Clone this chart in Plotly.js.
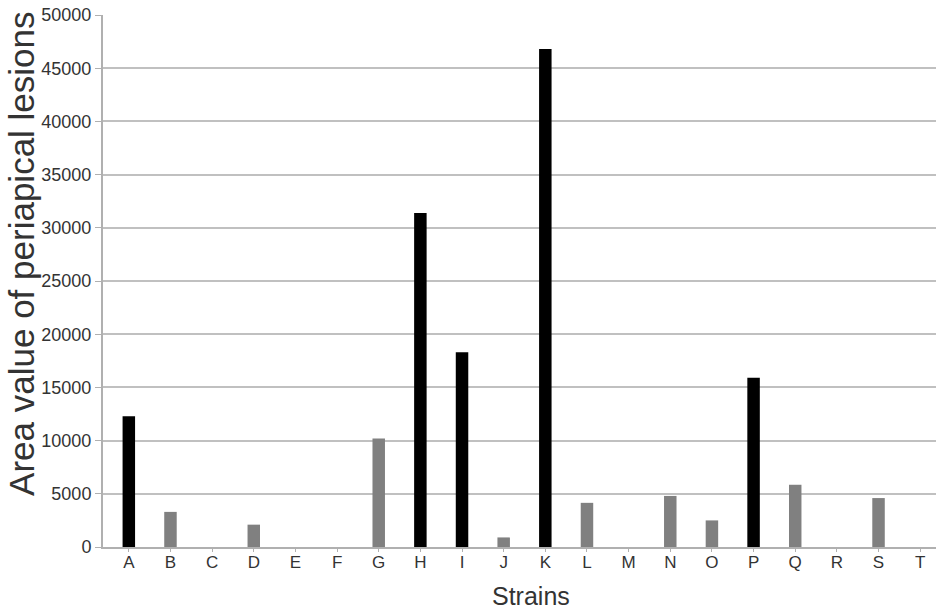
<!DOCTYPE html>
<html>
<head>
<meta charset="utf-8">
<script src="https://cdn.plot.ly/plotly-3.0.1.min.js"></script>
<style>html,body{margin:0;padding:0;background:#fff}#chart{width:945px;height:615px}</style>
</head>
<body>
<div id="chart"></div>
<script>
const strains = ["A","B","C","D","E","F","G","H","I","J","K","L","M","N","O","P","Q","R","S","T"];
const areaValues = [12300,3300,0,2100,0,0,10200,31400,18300,900,46800,4150,0,4800,2500,15900,5850,0,4600,0];
const groups = ["dark","light","light","light","light","light","light","dark","dark","light","dark","light","light","light","light","dark","light","light","light","light"];
const yTicks = [0,5000,10000,15000,20000,25000,30000,35000,40000,45000,50000];
const xTitle = "Strains";
const yTitle = "Area value of periapical lesions";

const groupColors = {dark: "#000000", light: "#808080"};

const trace = {
  type: "bar",
  x: strains.map((s, i) => i),
  y: areaValues,
  width: 0.3,
  marker: {color: groups.map(g => groupColors[g]), line: {width: 0}},
  hoverinfo: "x+y"
};

const layout = {
  width: 945, height: 615,
  margin: {l: 103, r: 9, t: 15, b: 68},
  paper_bgcolor: "#ffffff", plot_bgcolor: "#ffffff",
  showlegend: false,
  font: {family: "Liberation Sans, Arial, sans-serif", color: "#333333"},
  xaxis: {
    range: [-0.62, 19.38],
    tickmode: "array",
    tickvals: strains.map((s, i) => i),
    ticktext: strains,
    ticks: "outside", ticklen: 3, tickcolor: "#b0b0b0", tickwidth: 1,
    ticklabelstandoff: -4,
    showgrid: false, zeroline: false,
    showline: true, linecolor: "#b0b0b0", linewidth: 2,
    tickfont: {size: 17, color: "#333333"}
  },
  yaxis: {
    range: [0, 50000],
    tickmode: "array",
    tickvals: yTicks,
    ticktext: yTicks.map(String),
    ticks: "outside", ticklen: 6, tickcolor: "#b0b0b0", tickwidth: 1,
    showgrid: true, gridcolor: "#c0c0c0", gridwidth: 2,
    zeroline: false,
    showline: true, linecolor: "#b0b0b0", linewidth: 2,
    tickfont: {size: 18, color: "#333333"}
  },
  annotations: [
    {text: xTitle, xref: "paper", yref: "paper", x: 0.5144, y: -0.0921,
     xanchor: "center", yanchor: "middle", showarrow: false,
     font: {size: 25, color: "#333333"}},
    {text: yTitle, xref: "paper", yref: "paper", x: -0.0972, y: 0.551,
     xanchor: "center", yanchor: "middle", showarrow: false, textangle: -90,
     font: {size: 35, color: "#333333"}}
  ]
};

Plotly.newPlot("chart", [trace], layout, {displayModeBar: false, staticPlot: true});
</script>
</body>
</html>
